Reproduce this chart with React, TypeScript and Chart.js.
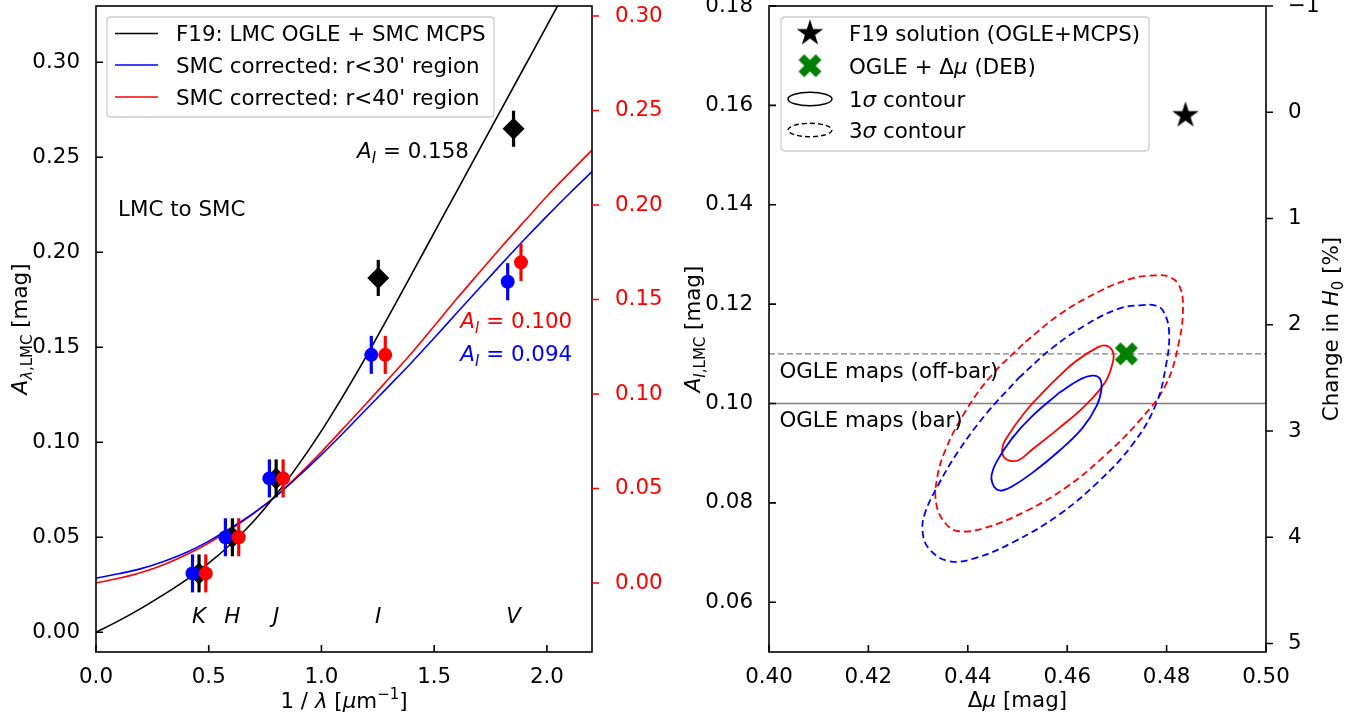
import React, { useEffect, useRef } from "react";
import { Chart, registerables } from "chart.js";

Chart.register(...registerables);

const FONT = '"DejaVu Sans", "Liberation Sans", Arial, sans-serif';
const FS = 21.4;

// ---------------- Left panel data ----------------
const bandNames = ["K", "H", "J", "I", "V"];
const bandX = [0.457, 0.605, 0.799, 1.252, 1.852];
const blueX = [0.428, 0.574, 0.769, 1.221, 1.826];
const redX = [0.487, 0.633, 0.83, 1.283, 1.885];
const f19Y = [0.031, 0.05, 0.081, 0.1865, 0.265];
const r30Y = [0.031, 0.05, 0.081, 0.146, 0.1845];
const r40Y = [0.031, 0.05, 0.081, 0.146, 0.1947];
const f19Err = [0.01, 0.01, 0.01, 0.0095, 0.0095];
const r30Err = [0.01, 0.01, 0.01, 0.01, 0.0098];
const r40Err = [0.01, 0.01, 0.01, 0.01, 0.0098];

const curveX = [0, 0.1, 0.2, 0.3, 0.4, 0.5, 0.6, 0.7, 0.8, 0.9, 1.0, 1.1, 1.2, 1.3, 1.4, 1.5, 1.6, 1.7, 1.8, 1.9, 2.0, 2.1, 2.2];
const f19Curve = [0, 0.006, 0.0126, 0.0198, 0.0276, 0.0364, 0.0466, 0.0586, 0.0726, 0.0885, 0.106, 0.1252, 0.1455, 0.1668, 0.1885, 0.2103, 0.2321, 0.2539, 0.2757, 0.2975, 0.3193, 0.3411];
const r30Curve = [0.0285, 0.0308, 0.0335, 0.0373, 0.042, 0.048, 0.055, 0.0628, 0.0718, 0.0823, 0.0935, 0.1053, 0.1175, 0.1297, 0.142, 0.1549, 0.168, 0.1811, 0.194, 0.2067, 0.219, 0.2309, 0.2424];
const r40Curve = [0.026, 0.0284, 0.0315, 0.0356, 0.0408, 0.047, 0.0543, 0.0626, 0.0719, 0.083, 0.095, 0.1077, 0.1205, 0.1337, 0.147, 0.1612, 0.1755, 0.1893, 0.203, 0.2163, 0.2295, 0.2418, 0.2538];

const leftXTicks = [0, 0.5, 1.0, 1.5, 2.0];
const leftYTicks = [0, 0.05, 0.1, 0.15, 0.2, 0.25, 0.3];
const leftY2Ticks = [0, 0.05, 0.1, 0.15, 0.2, 0.25, 0.3];

const leftLegend = ["F19: LMC OGLE + SMC MCPS", "SMC corrected: r<30' region", "SMC corrected: r<40' region"];
const aiF19 = "0.158";
const aiR40 = "0.100";
const aiR30 = "0.094";

// ---------------- Right panel data ----------------
const starX = [0.4838];
const starY = [0.158];
const debX = [0.4719];
const debY = [0.11];
const offBarA = 0.11;
const barA = 0.1;

const r40Sigma1: [number, number][] = [[0.4569, 0.1041], [0.4616, 0.1084], [0.4663, 0.1114], [0.468, 0.1116], [0.4692, 0.1104], [0.4692, 0.1084], [0.4677, 0.1044], [0.4637, 0.0997], [0.4583, 0.095], [0.4529, 0.0907], [0.4502, 0.0886], [0.4484, 0.0885], [0.4472, 0.0893], [0.4469, 0.0907], [0.4475, 0.0926], [0.4516, 0.0984]];
const r30Sigma1: [number, number][] = [[0.4583, 0.1021], [0.4623, 0.1047], [0.465, 0.1056], [0.4665, 0.1051], [0.4669, 0.1031], [0.466, 0.0997], [0.463, 0.095], [0.4583, 0.0904], [0.4529, 0.086], [0.4489, 0.0833], [0.4469, 0.0825], [0.4457, 0.0828], [0.4449, 0.0841], [0.4448, 0.0857], [0.4458, 0.0883], [0.4489, 0.093], [0.4529, 0.0974]];
const r40Sigma3: [number, number][] = [[0.4516, 0.1124], [0.4583, 0.1178], [0.4663, 0.1225], [0.4731, 0.1252], [0.4778, 0.1258], [0.4805, 0.1255], [0.4825, 0.1238], [0.4833, 0.1198], [0.4825, 0.1124], [0.4798, 0.1037], [0.4744, 0.0964], [0.467, 0.089], [0.4596, 0.083], [0.4516, 0.0783], [0.4435, 0.075], [0.4381, 0.0743], [0.4354, 0.076], [0.4337, 0.0796], [0.4337, 0.0843], [0.4354, 0.0904], [0.4395, 0.0984], [0.4448, 0.1057]];
const r30Sigma3: [number, number][] = [[0.4502, 0.1051], [0.4569, 0.1111], [0.4637, 0.1158], [0.4704, 0.1191], [0.4751, 0.1198], [0.4778, 0.1197], [0.4794, 0.1185], [0.4805, 0.1144], [0.4799, 0.1078], [0.4778, 0.0997], [0.4731, 0.0917], [0.4663, 0.0843], [0.4583, 0.0776], [0.4495, 0.0723], [0.4415, 0.0689], [0.4361, 0.0683], [0.4321, 0.0709], [0.4309, 0.0743], [0.4314, 0.078], [0.4341, 0.0837], [0.4381, 0.0904], [0.4435, 0.0977]];

const rightXTicks = [0.4, 0.42, 0.44, 0.46, 0.48, 0.5];
const rightYTicks = [0.06, 0.08, 0.1, 0.12, 0.14, 0.16, 0.18];
const rightY2Ticks = [-1, 0, 1, 2, 3, 4, 5];

// ---------------- drawing helpers ----------------
type Seg = { t: string; it?: boolean; sub?: boolean; sup?: boolean };

function segFont(s: Seg, size: number) {
  const sz = s.sub || s.sup ? size * 0.7 : size;
  return `${s.it ? "italic " : ""}${sz}px ${FONT}`;
}

function richWidth(ctx: CanvasRenderingContext2D, segs: Seg[], size: number) {
  let w = 0;
  for (const s of segs) {
    ctx.font = segFont(s, size);
    w += ctx.measureText(s.t).width;
  }
  return w;
}

function drawRich(
  ctx: CanvasRenderingContext2D,
  segs: Seg[],
  x: number,
  y: number,
  opts: { size?: number; color?: string; align?: "left" | "center" | "right"; rot?: boolean } = {}
) {
  const size = opts.size ?? FS;
  ctx.save();
  ctx.translate(x, y);
  if (opts.rot) ctx.rotate(-Math.PI / 2);
  const w = richWidth(ctx, segs, size);
  let cx = opts.align === "center" ? -w / 2 : opts.align === "right" ? -w : 0;
  const base = size * 0.365;
  ctx.textBaseline = "alphabetic";
  ctx.textAlign = "left";
  ctx.fillStyle = opts.color ?? "#000";
  for (const s of segs) {
    ctx.font = segFont(s, size);
    const dy = s.sub ? size * 0.24 : s.sup ? -size * 0.4 : 0;
    ctx.fillText(s.t, cx, base + dy);
    cx += ctx.measureText(s.t).width;
  }
  ctx.restore();
}

function drawFrame(ctx: CanvasRenderingContext2D, a: any) {
  ctx.save();
  ctx.strokeStyle = "#000";
  ctx.lineWidth = 1.6;
  ctx.strokeRect(a.left, a.top, a.right - a.left, a.bottom - a.top);
  ctx.restore();
}

function tickMarks(chart: any, id: string, side: "bottom" | "left" | "right", dir: "in" | "out", color: string) {
  const ctx: CanvasRenderingContext2D = chart.ctx;
  const s = chart.scales[id];
  const a = chart.chartArea;
  const len = 7;
  ctx.save();
  ctx.strokeStyle = color;
  ctx.lineWidth = 1.6;
  ctx.beginPath();
  for (const t of s.ticks) {
    const p = s.getPixelForValue(t.value);
    if (side === "bottom") {
      ctx.moveTo(p, a.bottom);
      ctx.lineTo(p, a.bottom + (dir === "in" ? -len : len));
    } else if (side === "left") {
      ctx.moveTo(a.left, p);
      ctx.lineTo(a.left + (dir === "in" ? len : -len), p);
    } else {
      ctx.moveTo(a.right, p);
      ctx.lineTo(a.right + (dir === "in" ? -len : len), p);
    }
  }
  ctx.stroke();
  ctx.restore();
}

function legendBox(ctx: CanvasRenderingContext2D, x: number, y: number, w: number, h: number) {
  const r = 4;
  ctx.save();
  ctx.beginPath();
  ctx.moveTo(x + r, y);
  ctx.lineTo(x + w - r, y);
  ctx.quadraticCurveTo(x + w, y, x + w, y + r);
  ctx.lineTo(x + w, y + h - r);
  ctx.quadraticCurveTo(x + w, y + h, x + w - r, y + h);
  ctx.lineTo(x + r, y + h);
  ctx.quadraticCurveTo(x, y + h, x, y + h - r);
  ctx.lineTo(x, y + r);
  ctx.quadraticCurveTo(x, y, x + r, y);
  ctx.closePath();
  ctx.fillStyle = "rgba(255,255,255,0.8)";
  ctx.fill();
  ctx.strokeStyle = "#cccccc";
  ctx.lineWidth = 1.3;
  ctx.stroke();
  ctx.restore();
}

function makeStar(r: number) {
  const size = Math.ceil(r * 2 + 4);
  const c = document.createElement("canvas");
  c.width = size;
  c.height = size;
  const g = c.getContext("2d")!;
  g.translate(size / 2, size / 2);
  g.beginPath();
  for (let i = 0; i < 10; i++) {
    const rad = i % 2 === 0 ? r : r * 0.381966;
    const ang = -Math.PI / 2 + (i * Math.PI) / 5;
    g.lineTo(rad * Math.cos(ang), rad * Math.sin(ang));
  }
  g.closePath();
  g.fillStyle = "#000";
  g.fill();
  return c;
}

function makeX(ms: number, color: string) {
  const pts = [[-1, -3], [1, -3], [1, -1], [3, -1], [3, 1], [1, 1], [1, 3], [-1, 3], [-1, 1], [-3, 1], [-3, -1], [-1, -1]];
  const size = Math.ceil(ms + 4);
  const c = document.createElement("canvas");
  c.width = size;
  c.height = size;
  const g = c.getContext("2d")!;
  g.translate(size / 2, size / 2);
  g.rotate(Math.PI / 4);
  g.beginPath();
  pts.forEach((p, i) => {
    const px = (p[0] * ms) / 6;
    const py = (p[1] * ms) / 6;
    if (i === 0) g.moveTo(px, py);
    else g.lineTo(px, py);
  });
  g.closePath();
  g.fillStyle = color;
  g.fill();
  return c;
}

const tickFont = { family: FONT, size: FS };

function closed(pts: [number, number][]) {
  const d = pts.map((p) => ({ x: p[0], y: p[1] }));
  d.push({ x: pts[0][0], y: pts[0][1] });
  return d;
}

// ---------------- Left chart ----------------
function buildLeft(canvas: HTMLCanvasElement) {
  const errMap: Record<number, { xs: number[]; ys: number[]; es: number[]; color: string }> = {
    3: { xs: bandX, ys: f19Y, es: f19Err, color: "#000000" },
    4: { xs: blueX, ys: r30Y, es: r30Err, color: "#0000ff" },
    5: { xs: redX, ys: r40Y, es: r40Err, color: "#ff0000" },
  };

  const errPlugin = {
    id: "errbars",
    beforeDatasetDraw(chart: any, args: any) {
      const e = errMap[args.index];
      if (!e) return;
      const ctx: CanvasRenderingContext2D = chart.ctx;
      const xs = chart.scales.x;
      const ys = chart.scales.y;
      ctx.save();
      ctx.strokeStyle = e.color;
      ctx.lineWidth = 3.2;
      e.xs.forEach((xv, i) => {
        const px = xs.getPixelForValue(xv);
        ctx.beginPath();
        ctx.moveTo(px, ys.getPixelForValue(e.ys[i] - e.es[i]));
        ctx.lineTo(px, ys.getPixelForValue(e.ys[i] + e.es[i]));
        ctx.stroke();
      });
      ctx.restore();
    },
  };

  const decor = {
    id: "decorLeft",
    afterDraw(chart: any) {
      const ctx: CanvasRenderingContext2D = chart.ctx;
      const a = chart.chartArea;
      const xs = chart.scales.x;
      const ys = chart.scales.y;
      drawFrame(ctx, a);
      tickMarks(chart, "x", "bottom", "in", "#000");
      tickMarks(chart, "y", "left", "in", "#000");
      tickMarks(chart, "y2", "right", "out", "#ff0000");

      bandNames.forEach((b, i) => {
        drawRich(ctx, [{ t: b, it: true }], xs.getPixelForValue(bandX[i]), ys.getPixelForValue(0.0091), { align: "center" });
      });
      drawRich(ctx, [{ t: "LMC to SMC" }], xs.getPixelForValue(0.098), ys.getPixelForValue(0.2233));
      drawRich(ctx, [{ t: "A", it: true }, { t: "I", it: true, sub: true }, { t: " = " + aiF19 }], xs.getPixelForValue(1.158), ys.getPixelForValue(0.2538));
      drawRich(ctx, [{ t: "A", it: true }, { t: "I", it: true, sub: true }, { t: " = " + aiR40 }], xs.getPixelForValue(1.616), ys.getPixelForValue(0.1644), { color: "#ff0000" });
      drawRich(ctx, [{ t: "A", it: true }, { t: "I", it: true, sub: true }, { t: " = " + aiR30 }], xs.getPixelForValue(1.616), ys.getPixelForValue(0.147), { color: "#0000ff" });

      drawRich(
        ctx,
        [{ t: "1 / " }, { t: "λ", it: true }, { t: " [" }, { t: "μ", it: true }, { t: "m" }, { t: "−1", sup: true }, { t: "]" }],
        (a.left + a.right) / 2,
        700,
        { align: "center" }
      );
      drawRich(
        ctx,
        [{ t: "A", it: true }, { t: "λ", it: true, sub: true }, { t: ",LMC", sub: true }, { t: " [mag]" }],
        19,
        (a.top + a.bottom) / 2,
        { align: "center", rot: true }
      );

      legendBox(ctx, a.left + 11, a.top + 11, 387, 100);
      const colors = ["#000000", "#0000ff", "#ff0000"];
      const rows = [27.5, 59, 91];
      leftLegend.forEach((lab, i) => {
        const y = a.top + rows[i];
        ctx.save();
        ctx.strokeStyle = colors[i];
        ctx.lineWidth = 1.6;
        ctx.beginPath();
        ctx.moveTo(a.left + 19, y);
        ctx.lineTo(a.left + 62, y);
        ctx.stroke();
        ctx.restore();
        drawRich(ctx, [{ t: lab }], a.left + 80, y);
      });
    },
  };

  const lineDs = (ys: number[], color: string) => ({
    data: ys.map((v, i) => ({ x: curveX[i], y: v })),
    showLine: true,
    borderColor: color,
    borderWidth: 1.6,
    pointRadius: 0,
    tension: 0.4,
    cubicInterpolationMode: "monotone" as const,
    order: 10,
  });

  const ptDs = (xsArr: number[], ysArr: number[], color: string, style: string, radius: number, order: number) => ({
    data: xsArr.map((v, i) => ({ x: v, y: ysArr[i] })),
    showLine: false,
    backgroundColor: color,
    borderColor: color,
    borderWidth: 0,
    pointStyle: style,
    pointRadius: radius,
    order,
  });

  return new Chart(canvas, {
    type: "scatter",
    data: {
      datasets: [
        lineDs(f19Curve, "#000000"),
        lineDs(r30Curve, "#0000ff"),
        lineDs(r40Curve, "#ff0000"),
        ptDs(bandX, f19Y, "#000000", "rectRot", 11, 3),
        ptDs(blueX, r30Y, "#0000ff", "circle", 7, 2),
        ptDs(redX, r40Y, "#ff0000", "circle", 7, 1),
      ] as any,
    },
    options: {
      responsive: false,
      animation: false,
      events: [],
      layout: { autoPadding: false, padding: { top: 6, left: 0, right: 0, bottom: 0 } },
      plugins: { legend: { display: false }, tooltip: { enabled: false } },
      scales: {
        x: {
          type: "linear",
          min: 0,
          max: 2.2,
          grid: { display: false },
          border: { display: false },
          ticks: { font: tickFont, color: "#000", padding: 5, maxRotation: 0, autoSkip: false, callback: (v: any) => Number(v).toFixed(1) },
          afterBuildTicks: (s: any) => {
            s.ticks = leftXTicks.map((v) => ({ value: v }));
          },
          afterFit: (s: any) => {
            s.height = 67;
            s.paddingLeft = 0;
            s.paddingRight = 0;
          },
        },
        y: {
          type: "linear",
          position: "left",
          min: -0.01037,
          max: 0.3296,
          grid: { display: false },
          border: { display: false },
          ticks: { font: tickFont, color: "#000", padding: 8, autoSkip: false, callback: (v: any) => Number(v).toFixed(2) },
          afterBuildTicks: (s: any) => {
            s.ticks = leftYTicks.map((v) => ({ value: v }));
          },
          afterFit: (s: any) => {
            s.width = 96;
            s.paddingTop = 0;
            s.paddingBottom = 0;
          },
        },
        y2: {
          type: "linear",
          position: "right",
          min: -0.0365,
          max: 0.3053,
          grid: { display: false },
          border: { display: false },
          ticks: { font: tickFont, color: "#ff0000", padding: 15, autoSkip: false, callback: (v: any) => Number(v).toFixed(2) },
          afterBuildTicks: (s: any) => {
            s.ticks = leftY2Ticks.map((v) => ({ value: v }));
          },
          afterFit: (s: any) => {
            s.width = 88;
            s.paddingTop = 0;
            s.paddingBottom = 0;
          },
        },
      },
    } as any,
    plugins: [errPlugin, decor],
  });
}

// ---------------- Right chart ----------------
function buildRight(canvas: HTMLCanvasElement) {
  const star = makeStar(14);
  const xMark = makeX(24.4, "#008000");

  const decor = {
    id: "decorRight",
    afterDraw(chart: any) {
      const ctx: CanvasRenderingContext2D = chart.ctx;
      const a = chart.chartArea;
      const xs = chart.scales.x;
      const ys = chart.scales.y;
      drawFrame(ctx, a);
      tickMarks(chart, "x", "bottom", "in", "#000");
      tickMarks(chart, "y", "left", "in", "#000");
      tickMarks(chart, "y2", "right", "out", "#000");

      drawRich(ctx, [{ t: "OGLE maps (off-bar)" }], xs.getPixelForValue(0.4021), ys.getPixelForValue(0.1067));
      drawRich(ctx, [{ t: "OGLE maps (bar)" }], xs.getPixelForValue(0.4021), ys.getPixelForValue(0.0969));

      drawRich(ctx, [{ t: "Δ" }, { t: "μ", it: true }, { t: " [mag]" }], (a.left + a.right) / 2, 699, { align: "center" });
      drawRich(
        ctx,
        [{ t: "A", it: true }, { t: "I", it: true, sub: true }, { t: ",LMC", sub: true }, { t: " [mag]" }],
        12,
        (a.top + a.bottom) / 2,
        { align: "center", rot: true }
      );
      drawRich(
        ctx,
        [{ t: "Change in " }, { t: "H", it: true }, { t: "0", sub: true }, { t: " [%]" }],
        650,
        (a.top + a.bottom) / 2,
        { align: "center", rot: true }
      );

      legendBox(ctx, a.left + 12, a.top + 11, 368, 134);
      const mx = a.left + 41;
      const tx = a.left + 80;
      const rows = [27.3, 59.7, 93, 124];
      ctx.drawImage(star, mx - star.width / 2, a.top + rows[0] - star.height / 2);
      ctx.drawImage(xMark, mx - xMark.width / 2, a.top + rows[1] - xMark.height / 2);
      ctx.save();
      ctx.strokeStyle = "#000";
      ctx.lineWidth = 1.4;
      ctx.beginPath();
      ctx.ellipse(mx, a.top + rows[2], 22, 6.7, 0, 0, Math.PI * 2);
      ctx.stroke();
      ctx.setLineDash([5, 3]);
      ctx.beginPath();
      ctx.ellipse(mx, a.top + rows[3], 22, 6.7, 0, 0, Math.PI * 2);
      ctx.stroke();
      ctx.restore();
      drawRich(ctx, [{ t: "F19 solution (OGLE+MCPS)" }], tx, a.top + rows[0]);
      drawRich(ctx, [{ t: "OGLE + Δ" }, { t: "μ", it: true }, { t: " (DEB)" }], tx, a.top + rows[1]);
      drawRich(ctx, [{ t: "1" }, { t: "σ", it: true }, { t: " contour" }], tx, a.top + rows[2]);
      drawRich(ctx, [{ t: "3" }, { t: "σ", it: true }, { t: " contour" }], tx, a.top + rows[3]);
    },
  };

  const ell = (pts: [number, number][], color: string, dashed: boolean) => ({
    data: closed(pts),
    showLine: true,
    borderColor: color,
    borderWidth: 1.8,
    borderDash: dashed ? [7, 4] : [],
    pointRadius: 0,
    tension: 0.4,
    order: 5,
  });

  const hline = (v: number, dashed: boolean) => ({
    data: [
      { x: rightXTicks[0], y: v },
      { x: rightXTicks[rightXTicks.length - 1], y: v },
    ],
    showLine: true,
    borderColor: "#808080",
    borderWidth: 1.4,
    borderDash: dashed ? [6, 3] : [],
    pointRadius: 0,
    order: 10,
  });

  return new Chart(canvas, {
    type: "scatter",
    data: {
      datasets: [
        hline(offBarA, true),
        hline(barA, false),
        ell(r30Sigma3, "#0000ff", true),
        ell(r40Sigma3, "#ff0000", true),
        ell(r30Sigma1, "#0000ff", false),
        ell(r40Sigma1, "#ff0000", false),
        { data: starX.map((v, i) => ({ x: v, y: starY[i] })), pointStyle: star, pointRadius: 14, order: 1 },
        { data: debX.map((v, i) => ({ x: v, y: debY[i] })), pointStyle: xMark, pointRadius: 12, order: 1 },
      ] as any,
    },
    options: {
      responsive: false,
      animation: false,
      events: [],
      layout: { autoPadding: false, padding: { top: 6, left: 0, right: 0, bottom: 0 } },
      plugins: { legend: { display: false }, tooltip: { enabled: false } },
      scales: {
        x: {
          type: "linear",
          min: 0.4,
          max: 0.5,
          grid: { display: false },
          border: { display: false },
          ticks: { font: tickFont, color: "#000", padding: 5, maxRotation: 0, autoSkip: false, callback: (v: any) => Number(v).toFixed(2) },
          afterBuildTicks: (s: any) => {
            s.ticks = rightXTicks.map((v) => ({ value: v }));
          },
          afterFit: (s: any) => {
            s.height = 67;
            s.paddingLeft = 0;
            s.paddingRight = 0;
          },
        },
        y: {
          type: "linear",
          position: "left",
          min: 0.05,
          max: 0.18,
          grid: { display: false },
          border: { display: false },
          ticks: { font: tickFont, color: "#000", padding: 8, autoSkip: false, callback: (v: any) => Number(v).toFixed(2) },
          afterBuildTicks: (s: any) => {
            s.ticks = rightYTicks.map((v) => ({ value: v }));
          },
          afterFit: (s: any) => {
            s.width = 89;
            s.paddingTop = 0;
            s.paddingBottom = 0;
          },
        },
        y2: {
          type: "linear",
          position: "right",
          reverse: true,
          min: -1.0,
          max: 5.08,
          grid: { display: false },
          border: { display: false },
          ticks: {
            font: tickFont,
            color: "#000",
            padding: 14,
            autoSkip: false,
            callback: (v: any) => (Number(v) < 0 ? "−" + Math.abs(Number(v)) : String(Number(v))),
          },
          afterBuildTicks: (s: any) => {
            s.ticks = rightY2Ticks.map((v) => ({ value: v }));
          },
          afterFit: (s: any) => {
            s.width = 101;
            s.paddingTop = 0;
            s.paddingBottom = 0;
          },
        },
      },
    } as any,
    plugins: [decor],
  });
}

export default function App() {
  const leftRef = useRef<HTMLCanvasElement | null>(null);
  const rightRef = useRef<HTMLCanvasElement | null>(null);

  useEffect(() => {
    const c1 = buildLeft(leftRef.current!);
    const c2 = buildRight(rightRef.current!);
    return () => {
      c1.destroy();
      c2.destroy();
    };
  }, []);

  return (
    <div style={{ position: "absolute", left: 0, top: 0, width: 1367, height: 719, background: "#fff", overflow: "hidden" }}>
      <canvas ref={leftRef} width={680} height={719} style={{ position: "absolute", left: 0, top: 0, width: 680, height: 719 }} />
      <canvas ref={rightRef} width={687} height={719} style={{ position: "absolute", left: 680, top: 0, width: 687, height: 719 }} />
    </div>
  );
}
